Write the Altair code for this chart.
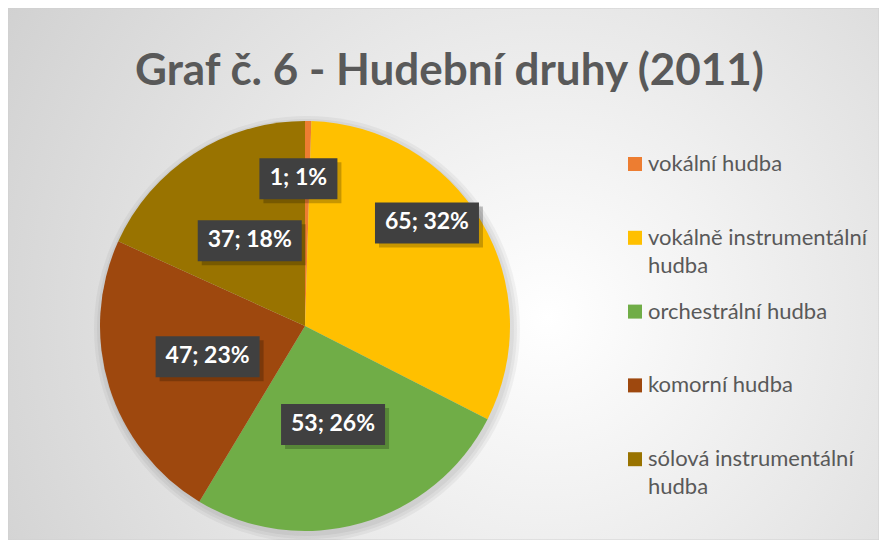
import altair as alt
import pandas as pd
import math

# ---- data ----
categories = [
    "vokální hudba",
    "vokálně instrumentální hudba",
    "orchestrální hudba",
    "komorní hudba",
    "sólová instrumentální hudba",
]
values = [1, 65, 53, 47, 37]
percents = [1, 32, 26, 23, 18]
colors = ["#ED7D31", "#FFC000", "#70AD47", "#9E480E", "#997300"]
title_text = "Graf č. 6 - Hudební druhy (2011)"

# ---- layout ----
W, H = 871, 532
CX, CY = 297, 318
R = 205
FONT = "Lato"
LEG_X, LEG_Y0, LEG_STEP = 627, 156, 73.8

df = pd.DataFrame({
    "kategorie": categories,
    "pocet": values,
    "procenta": percents,
    "poradi": list(range(len(categories))),
})

one = pd.DataFrame({"a": [0]})

bg = alt.Chart(one).mark_rect(
    fill=alt.RadialGradient(
        gradient="radial",
        stops=[alt.GradientStop(offset=0, color="#ffffff"),
               alt.GradientStop(offset=1, color="#cdcdcd")],
        x1=0.62, y1=0.55, r1=0, x2=0.62, y2=0.55, r2=0.78),
    stroke="#d0d0d0", strokeWidth=1,
).encode(x=alt.value(0), x2=alt.value(W), y=alt.value(0), y2=alt.value(H))

# soft shadow round the pie
halo = [
    alt.Chart(one).mark_arc(theta=0, theta2=2 * math.pi, outerRadius=R + d,
                            color="#000000", opacity=0.045)
    .encode(x=alt.value(CX + 2), y=alt.value(CY + 3))
    for d in (2, 5, 8)
]

color = alt.Color(
    "kategorie:N",
    scale=alt.Scale(domain=categories, range=colors),
    legend=None,
)

pie = alt.Chart(df).mark_arc(outerRadius=R, innerRadius=0).encode(
    theta=alt.Theta("pocet:Q", stack=True),
    order=alt.Order("poradi:Q"),
    color=color,
    x=alt.value(CX),
    y=alt.value(CY),
)

# ---- legend ----
leg = alt.Chart(df).transform_calculate(
    ly=f"{LEG_Y0} + {LEG_STEP} * datum.poradi",
    nazev="length(datum.kategorie) > 20 ? replace(datum.kategorie, ' hudba', '\\nhudba') : datum.kategorie",
)
leg_sym = leg.mark_square(size=196, opacity=1, strokeWidth=0).encode(
    x=alt.value(LEG_X),
    y=alt.Y("ly:Q", scale=None, axis=None),
    color=color,
)
leg_txt = leg.mark_text(font=FONT, fontSize=22, color="#595959", align="left",
                        baseline="middle", lineBreak="\n", lineHeight=28).encode(
    x=alt.value(LEG_X + 13),
    y=alt.Y("ly:Q", scale=None, axis=None),
    text="nazev:N",
)

# ---- data labels ----
lbl = alt.Chart(df).transform_joinaggregate(
    celkem="sum(pocet)"
).transform_window(
    kum="sum(pocet)", sort=[alt.SortField("poradi")], frame=[None, 0]
).transform_calculate(
    uhel0="(datum.kum - datum.pocet / 2) / datum.celkem * 2 * PI",
    uhel="datum.pocet > 60 ? datum.uhel0 - 0.17 : (datum.pocet < 5 ? datum.uhel0 - 0.06 : datum.uhel0)",
    rl="datum.pocet < 5 ? 148 : (datum.pocet > 60 ? 160 : 102)",
    lx=f"{CX} + datum.rl * sin(datum.uhel)",
    ly=f"{CY} - datum.rl * cos(datum.uhel)",
    popis="datum.pocet + '; ' + datum.procenta + '%'",
    bw="13 * length(datum.popis) + 13",
    bx1="datum.lx - datum.bw / 2",
    bx2="datum.lx + datum.bw / 2",
    by1="datum.ly - 20",
    by2="datum.ly + 21",
    sx1="datum.bx1 + 4", sx2="datum.bx2 + 4",
    sy1="datum.by1 + 4", sy2="datum.by2 + 4",
)

shadow = lbl.mark_rect(color="#000000", opacity=0.22).encode(
    x=alt.X("sx1:Q", scale=None, axis=None), x2="sx2:Q",
    y=alt.Y("sy1:Q", scale=None, axis=None), y2="sy2:Q",
)
box = lbl.mark_rect(color="#404040").encode(
    x=alt.X("bx1:Q", scale=None, axis=None), x2="bx2:Q",
    y=alt.Y("by1:Q", scale=None, axis=None), y2="by2:Q",
)
txt = lbl.mark_text(color="white", font=FONT, fontWeight="bold", fontSize=23,
                    baseline="middle", align="center").encode(
    x=alt.X("lx:Q", scale=None, axis=None),
    y=alt.Y("ly:Q", scale=None, axis=None),
    text="popis:N",
)

chart = alt.layer(bg, *halo, pie, shadow, box, txt, leg_sym, leg_txt).properties(
    width=W, height=H,
    autosize=alt.AutoSizeParams(type="none"),
    padding={"left": 0, "top": 0, "right": 0, "bottom": 0},
    title=alt.TitleParams(
        title_text, font=FONT, fontSize=44, fontWeight="bold",
        color="#595959", anchor="middle", frame="group", offset=-86, dx=6,
    ),
).configure_view(stroke=None)

chart.save("out.html", embed_options={"renderer": "svg", "actions": False})
